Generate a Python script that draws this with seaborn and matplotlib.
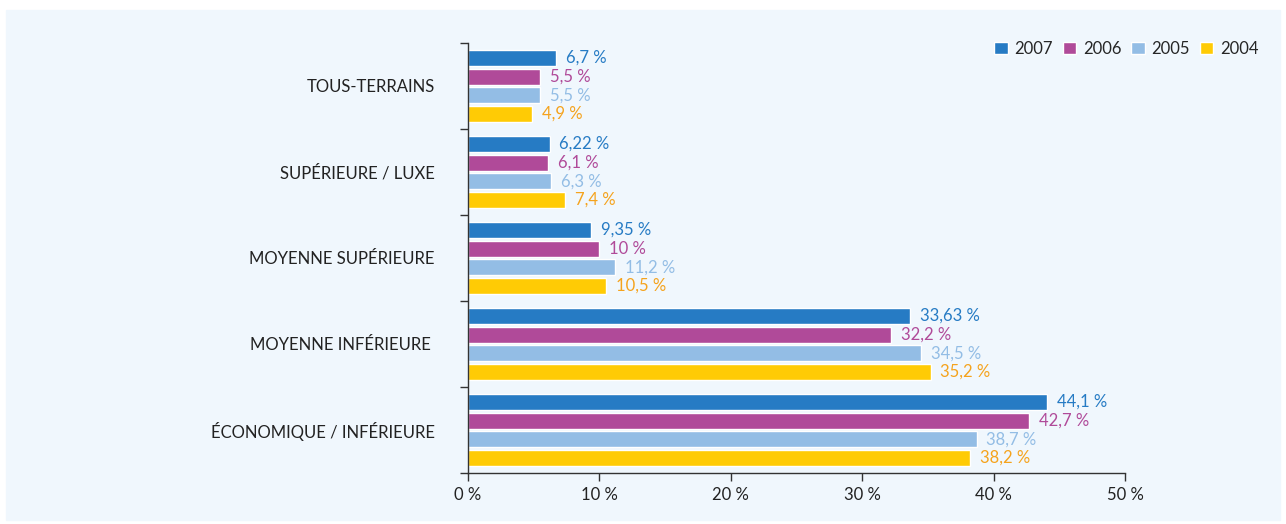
import pandas as pd
import seaborn as sns
import matplotlib.pyplot as plt
from matplotlib.patches import Rectangle
from matplotlib.ticker import MultipleLocator, FixedLocator

categories = ['TOUS-TERRAINS', 'SUPÉRIEURE / LUXE', 'MOYENNE SUPÉRIEURE',
              'MOYENNE INFÉRIEURE ', 'ÉCONOMIQUE / INFÉRIEURE']
years = ['2007', '2006', '2005', '2004']
v2007 = [6.7, 6.22, 9.35, 33.63, 44.1]
v2006 = [5.5, 6.1, 10, 32.2, 42.7]
v2005 = [5.5, 6.3, 11.2, 34.5, 38.7]
v2004 = [4.9, 7.4, 10.5, 35.2, 38.2]

bar_colors = ['#267bc4', '#b04a99', '#93bde5', '#ffcb05']
text_colors = ['#267bc4', '#b04a99', '#93bde5', '#f5a31d']

rows = []
for year, vals in zip(years, [v2007, v2006, v2005, v2004]):
    for cat, v in zip(categories, vals):
        rows.append({'cat': cat, 'year': year, 'value': v})
df = pd.DataFrame(rows)

sns.set_style('white')
plt.rcParams['font.family'] = ['Lato', 'DejaVu Sans']

fig = plt.figure(figsize=(12.86, 5.24), dpi=100)
fig.patches.append(Rectangle((6 / 1286, 4 / 524), 1274 / 1286, 510 / 524,
                             transform=fig.transFigure, color='#f0f7fd', zorder=-10))
ax = fig.add_axes([468 / 1286, 1 - 473 / 524, (1125 - 468) / 1286, (473 - 43) / 524])
ax.set_facecolor('none')

sns.barplot(data=df, y='cat', x='value', hue='year', hue_order=years,
            order=categories, palette=bar_colors, orient='h', width=0.87,
            gap=0.14, saturation=1, ax=ax, legend=True)

for cont, col in zip(ax.containers, text_colors):
    labels = [f"{b.get_width():g}".replace('.', ',') + ' %' for b in cont]
    ax.bar_label(cont, labels=labels, padding=7, color=col, fontsize=12)

ax.set_xlim(0, 50)
ax.set_ylim(len(categories) - 0.5, -0.5)
ax.xaxis.set_major_locator(MultipleLocator(10))
ax.set_xticklabels([f'{int(t)} %' for t in ax.get_xticks()])
ax.yaxis.set_major_locator(FixedLocator(range(len(categories))))
ax.set_yticklabels(categories)
ax.yaxis.set_minor_locator(FixedLocator([i - 0.5 for i in range(len(categories) + 1)]))
ax.tick_params(axis='y', which='major', length=0, pad=24, labelsize=12, labelcolor='#222222')
ax.tick_params(axis='y', which='minor', length=6, width=1, color='#333333', left=True)
ax.tick_params(axis='x', which='major', length=6, width=1, color='#333333', bottom=True,
               labelsize=12, labelcolor='#222222', pad=4)
ax.set_xlabel('')
ax.set_ylabel('')
for s in ['top', 'right']:
    ax.spines[s].set_visible(False)
for s in ['left', 'bottom']:
    ax.spines[s].set_color('#333333')
    ax.spines[s].set_linewidth(1)

ax.legend(loc='upper right', bbox_to_anchor=(1.226, 1.04), ncol=4, frameon=False,
          handlelength=0.8, handleheight=0.8, handletextpad=0.4, columnspacing=0.6,
          fontsize=12)

fig.savefig('out.png', dpi=100)
